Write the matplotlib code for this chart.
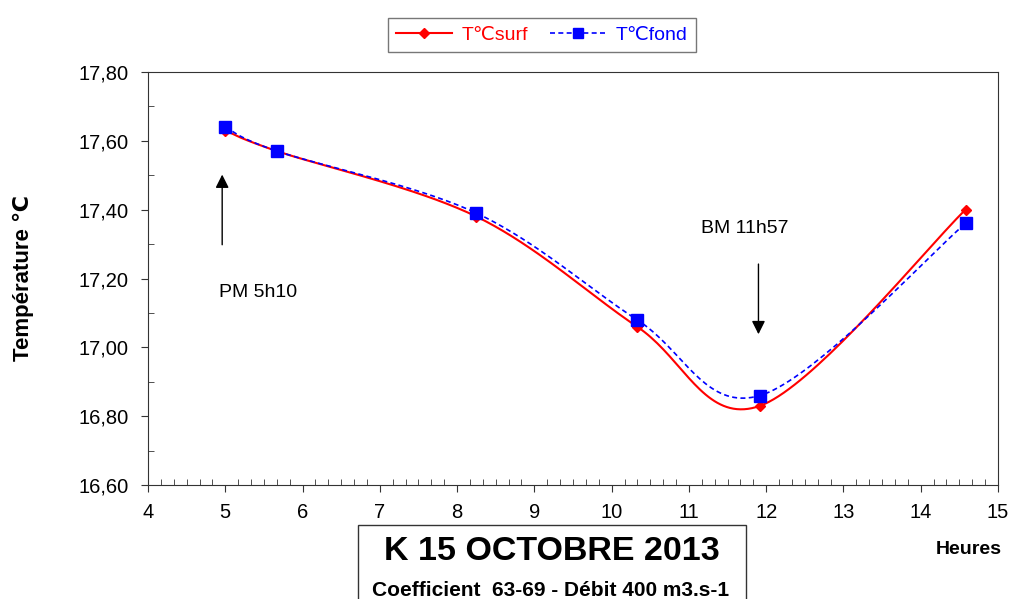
import matplotlib.pyplot as plt
import numpy as np
from matplotlib.ticker import MultipleLocator

plt.rcParams['font.family'] = ['Liberation Sans', 'DejaVu Sans']

# Données
heures = [5.0, 5.67, 8.25, 10.33, 11.92, 14.58]
t_surf = [17.63, 17.57, 17.38, 17.06, 16.83, 17.40]
t_fond = [17.64, 17.57, 17.39, 17.08, 16.86, 17.36]
yticks = [16.6, 16.8, 17.0, 17.2, 17.4, 17.6, 17.8]


# courbe lissée type Excel (spline cardinale)
def lisse(x, y, n=40, tension=0.5):
    x = np.asarray(x, float)
    y = np.asarray(y, float)
    px = np.concatenate([[x[0]], x, [x[-1]]])
    py = np.concatenate([[y[0]], y, [y[-1]]])
    xs, ys = [], []
    for i in range(1, len(px) - 2):
        p0x, p1x, p2x, p3x = px[i - 1], px[i], px[i + 1], px[i + 2]
        p0y, p1y, p2y, p3y = py[i - 1], py[i], py[i + 1], py[i + 2]
        m1x = tension * (p2x - p0x)
        m2x = tension * (p3x - p1x)
        m1y = tension * (p2y - p0y)
        m2y = tension * (p3y - p1y)
        t = np.linspace(0, 1, n)
        h00 = 2 * t**3 - 3 * t**2 + 1
        h10 = t**3 - 2 * t**2 + t
        h01 = -2 * t**3 + 3 * t**2
        h11 = t**3 - t**2
        xs.append(h00 * p1x + h10 * m1x + h01 * p2x + h11 * m2x)
        ys.append(h00 * p1y + h10 * m1y + h01 * p2y + h11 * m2y)
    return np.concatenate(xs), np.concatenate(ys)


fig = plt.figure(figsize=(10.13, 5.99), dpi=100)
ax = fig.add_axes([148 / 1013, 1 - 485 / 599, 850 / 1013, 413 / 599])

xs, ys = lisse(heures, t_surf)
ax.plot(xs, ys, color='red', lw=1.5)
ax.plot(heures, t_surf, 'D', color='red', ms=5, ls='none')
xf, yf = lisse(heures, t_fond)
ax.plot(xf, yf, color='blue', lw=1.2, ls=(0, (3, 2)))
ax.plot(heures, t_fond, 's', color='blue', ms=8, ls='none')

# légende manuelle (lignes + marqueurs)
h1, = ax.plot([], [], color='red', lw=1.5, marker='D', ms=5, label='T℃surf')
h2, = ax.plot([], [], color='blue', lw=1.2, ls=(0, (3, 2)), marker='s', ms=7, label='T℃fond')
leg = fig.legend(handles=[h1, h2], loc='center', bbox_to_anchor=(542 / 1013, 1 - 35 / 599),
                 ncol=2, fontsize=14, frameon=True, fancybox=False, edgecolor='#555555',
                 handlelength=2.9, columnspacing=1.1, borderpad=0.4, handletextpad=0.5)
for txt, c in zip(leg.get_texts(), ['red', 'blue']):
    txt.set_color(c)

ax.set_xlim(4, 15)
ax.set_ylim(16.6, 17.8)
ax.set_xticks(range(4, 16))
ax.set_yticks(yticks)
ax.set_yticklabels([('%.2f' % v).replace('.', ',') for v in yticks])
ax.xaxis.set_minor_locator(MultipleLocator(1 / 6))
ax.yaxis.set_minor_locator(MultipleLocator(0.1))
ax.tick_params(which='major', labelsize=14.5, direction='out', length=5, color='#333333')
ax.tick_params(axis='y', which='major', pad=9)
ax.tick_params(axis='x', which='major', pad=8)
ax.tick_params(which='minor', direction='in', length=4, color='#333333')
for s in ax.spines.values():
    s.set_color('#333333')

fig.text(23 / 1013, 1 - 278 / 599, 'Température ℃', fontsize=16, fontweight='bold',
         rotation=90, ha='center', va='center')

# flèches marées
ax.annotate('', xy=(4.96, 17.51), xytext=(4.96, 17.29),
            arrowprops=dict(arrowstyle='-|>', color='black', lw=1, mutation_scale=20))
ax.text(5.42, 17.16, 'PM 5h10', fontsize=14, ha='center', va='center')
ax.annotate('', xy=(11.9, 17.03), xytext=(11.9, 17.25),
            arrowprops=dict(arrowstyle='-|>', color='black', lw=1, mutation_scale=20))
ax.text(11.72, 17.345, 'BM 11h57', fontsize=14, ha='center', va='center')

fig.text(552 / 1013, 1 - 552 / 599, 'K 15 OCTOBRE 2013', fontsize=24.5, fontweight='bold',
         ha='center', va='center')
fig.text(551 / 1013, 1 - 590 / 599, 'Coefficient  63-69 - Débit 400 m3.s-1', fontsize=15,
         fontweight='bold', ha='center', va='center')
fig.patches.append(plt.Rectangle((358 / 1013, -0.01), 388 / 1013, 74 / 599 + 0.01, transform=fig.transFigure,
                                 fill=False, edgecolor='#333333', lw=1))
fig.text(969 / 1013, 1 - 550 / 599, 'Heures', fontsize=14, fontweight='bold', ha='center', va='center')

fig.savefig('out.png', dpi=100)
